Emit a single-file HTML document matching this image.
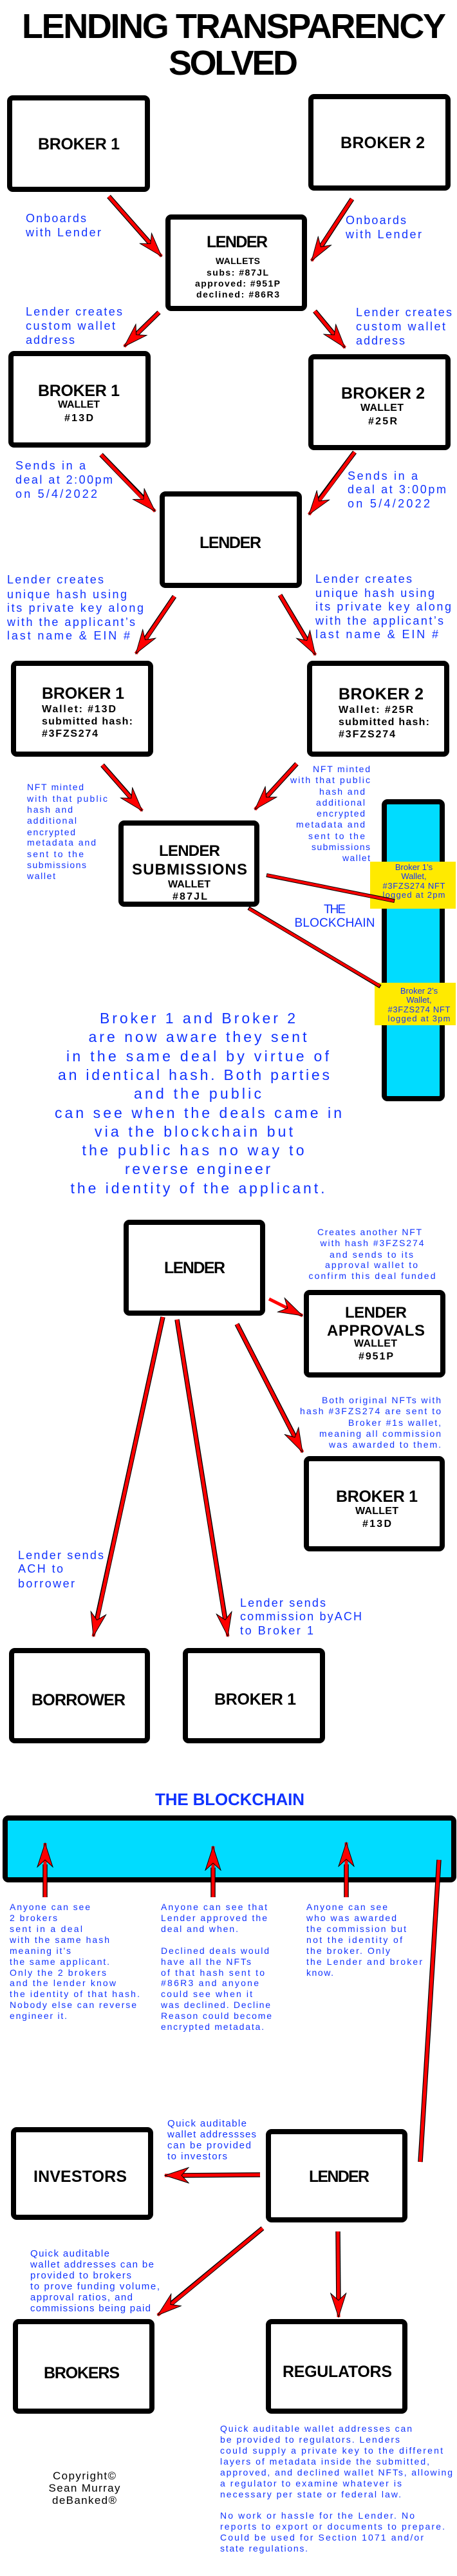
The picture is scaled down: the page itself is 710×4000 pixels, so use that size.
<!DOCTYPE html>
<html><head><meta charset="utf-8"><style>
html,body{margin:0;padding:0;background:#fff;}
svg{display:block;}
.bx{fill:#fff;stroke:#000;stroke-width:8;}
.t{font-family:"Liberation Sans",sans-serif;font-weight:bold;fill:#000;}
.b{font-family:"Liberation Sans",sans-serif;fill:#1133ff;}
.k{stroke:#000;stroke-width:7.5;}
.r{stroke:#f00;stroke-width:5;}
</style></head><body>
<svg width="710" height="4000" viewBox="0 0 710 4000" xmlns="http://www.w3.org/2000/svg">
<defs>
<marker id="h" markerUnits="userSpaceOnUse" markerWidth="42" markerHeight="32" refX="38" refY="15" orient="auto" viewBox="0 0 42 32">
<path d="M38,15 L1,3 L12,15 L1,27 Z" fill="#f00" stroke="#000" stroke-width="1"/>
</marker>
</defs>

<!-- TITLE -->
<text class="t" x="34" y="59" font-size="54" textLength="659" font-weight="bold">LENDING TRANSPARENCY</text>
<text class="t" x="262" y="116" font-size="54" textLength="201">SOLVED</text>

<!-- top boxes -->
<rect class="bx" x="15" y="152" width="214" height="142" rx="5"/>
<text class="t" x="59" y="232" font-size="25" textLength="127">BROKER 1</text>
<rect class="bx" x="483" y="150" width="213" height="142" rx="5"/>
<text class="t" x="529" y="230" font-size="25" textLength="131">BROKER 2</text>

<rect class="bx" x="261" y="337" width="212" height="142" rx="5"/>
<text class="t" x="321" y="384" font-size="25" textLength="95">LENDER</text>
<text class="t" x="335" y="410" font-size="14" textLength="69" font-weight="normal">WALLETS</text>
<text class="t" x="321" y="428" font-size="14" textLength="96" font-weight="normal">subs: #87JL</text>
<text class="t" x="303" y="445" font-size="14" textLength="132" font-weight="normal">approved: #951P</text>
<text class="t" x="305" y="462" font-size="14" textLength="129" font-weight="normal">declined: #86R3</text>

<text class="b" x="40" y="345" font-size="18" textLength="94">Onboards</text>
<text class="b" x="40" y="367" font-size="18" textLength="117">with Lender</text>
<text class="b" x="537" y="348" font-size="18" textLength="94">Onboards</text>
<text class="b" x="537" y="370" font-size="18" textLength="118">with Lender</text>

<line class="k" x1="169" y1="305" x2="236" y2="381"/><line class="r" x1="169" y1="305" x2="251" y2="398" marker-end="url(#h)"/>
<line class="k" x1="547" y1="309" x2="496" y2="387"/><line class="r" x1="547" y1="309" x2="484" y2="405" marker-end="url(#h)"/>
<line class="k" x1="247" y1="485" x2="208" y2="523"/><line class="r" x1="247" y1="485" x2="193" y2="538" marker-end="url(#h)"/>
<line class="k" x1="489" y1="483" x2="523" y2="524"/><line class="r" x1="489" y1="483" x2="536" y2="540" marker-end="url(#h)"/>

<text class="b" x="40" y="490" font-size="18" textLength="150">Lender creates</text>
<text class="b" x="40" y="512" font-size="18" textLength="139">custom wallet</text>
<text class="b" x="40" y="534" font-size="18" textLength="76">address</text>
<text class="b" x="553" y="491" font-size="18" textLength="149">Lender creates</text>
<text class="b" x="553" y="513" font-size="18" textLength="139">custom wallet</text>
<text class="b" x="553" y="535" font-size="18" textLength="76">address</text>

<rect class="bx" x="17" y="549" width="213" height="142" rx="5"/>
<text class="t" x="59" y="615" font-size="25" textLength="127">BROKER 1</text>
<text class="t" x="90" y="633" font-size="16" textLength="65">WALLET</text>
<text class="t" x="100" y="654" font-size="16" textLength="45">#13D</text>
<rect class="bx" x="483" y="554" width="213" height="141" rx="5"/>
<text class="t" x="530" y="619" font-size="25" textLength="130">BROKER 2</text>
<text class="t" x="560" y="638" font-size="16" textLength="67">WALLET</text>
<text class="t" x="572" y="659" font-size="16" textLength="45">#25R</text>

<!-- section 2 -->
<line class="k" x1="157" y1="706" x2="226" y2="777"/><line class="r" x1="157" y1="706" x2="241" y2="794" marker-end="url(#h)"/>
<line class="k" x1="551" y1="702" x2="492" y2="781"/><line class="r" x1="551" y1="702" x2="480" y2="799" marker-end="url(#h)"/>

<text class="b" x="24" y="729" font-size="18" textLength="109">Sends in a</text>
<text class="b" x="24" y="751" font-size="18" textLength="151">deal at 2:00pm</text>
<text class="b" x="24" y="773" font-size="18" textLength="127">on 5/4/2022</text>
<text class="b" x="540" y="745" font-size="18" textLength="109">Sends in a</text>
<text class="b" x="540" y="766" font-size="18" textLength="153">deal at 3:00pm</text>
<text class="b" x="540" y="788" font-size="18" textLength="128">on 5/4/2022</text>

<rect class="bx" x="252" y="767" width="213" height="142" rx="5"/>
<text class="t" x="310" y="851" font-size="25" textLength="96">LENDER</text>

<text class="b" x="11" y="906" font-size="18" textLength="150">Lender creates</text>
<text class="b" x="11" y="929" font-size="18" textLength="186">unique hash using</text>
<text class="b" x="11" y="950" font-size="18" textLength="212">its private key along</text>
<text class="b" x="11" y="972" font-size="18" textLength="199">with the applicant’s</text>
<text class="b" x="11" y="993" font-size="18" textLength="191">last name &amp; EIN #</text>
<text class="b" x="490" y="905" font-size="18" textLength="150">Lender creates</text>
<text class="b" x="490" y="927" font-size="18" textLength="185">unique hash using</text>
<text class="b" x="490" y="948" font-size="18" textLength="211">its private key along</text>
<text class="b" x="490" y="970" font-size="18" textLength="199">with the applicant’s</text>
<text class="b" x="490" y="991" font-size="18" textLength="191">last name &amp; EIN #</text>

<line class="k" x1="271" y1="926" x2="220" y2="1001"/><line class="r" x1="271" y1="926" x2="211" y2="1015" marker-end="url(#h)"/>
<line class="k" x1="435" y1="924" x2="482" y2="1003"/><line class="r" x1="435" y1="924" x2="490" y2="1017" marker-end="url(#h)"/>

<rect class="bx" x="21" y="1030" width="213" height="141" rx="5"/>
<text class="t" x="65" y="1085" font-size="25" textLength="128">BROKER 1</text>
<text class="t" x="65" y="1106" font-size="16" textLength="115" font-weight="normal">Wallet: #13D</text>
<text class="t" x="65" y="1125" font-size="16" textLength="141" font-weight="normal">submitted hash:</text>
<text class="t" x="65" y="1144" font-size="16" textLength="87">#3FZS274</text>
<rect class="bx" x="481" y="1030" width="213" height="141" rx="5"/>
<text class="t" x="526" y="1086" font-size="25" textLength="132">BROKER 2</text>
<text class="t" x="526" y="1107" font-size="16" textLength="116" font-weight="normal">Wallet: #25R</text>
<text class="t" x="526" y="1126" font-size="16" textLength="141" font-weight="normal">submitted hash:</text>
<text class="t" x="526" y="1145" font-size="16" textLength="88">#3FZS274</text>

<line class="k" x1="159" y1="1188" x2="210" y2="1246"/><line class="r" x1="159" y1="1188" x2="221" y2="1259" marker-end="url(#h)"/>
<line class="k" x1="461" y1="1186" x2="407" y2="1245"/><line class="r" x1="461" y1="1186" x2="396" y2="1257" marker-end="url(#h)"/>

<g class="b" font-size="14">
<text x="42" y="1227" textLength="88">NFT minted</text>
<text x="42" y="1245" textLength="125">with that public</text>
<text x="42" y="1262" textLength="71">hash and</text>
<text x="42" y="1279" textLength="77">additional</text>
<text x="42" y="1297" textLength="75">encrypted</text>
<text x="42" y="1313" textLength="107">metadata and</text>
<text x="42" y="1331" textLength="88">sent to the</text>
<text x="42" y="1348" textLength="92">submissions</text>
<text x="42" y="1365" textLength="44">wallet</text>
</g>
<g class="b" font-size="14" text-anchor="end">
<text x="575" y="1199" textLength="89">NFT minted</text>
<text x="575" y="1216" textLength="124">with that public</text>
<text x="567" y="1234" textLength="71">hash and</text>
<text x="567" y="1251" textLength="76">additional</text>
<text x="567" y="1268" textLength="75">encrypted</text>
<text x="567" y="1285" textLength="107">metadata and</text>
<text x="567" y="1303" textLength="88">sent to the</text>
<text x="575" y="1320" textLength="91">submissions</text>
<text x="575" y="1337" textLength="43">wallet</text>
</g>

<rect class="bx" x="188" y="1278" width="211" height="126" rx="5"/>
<text class="t" x="247" y="1329" font-size="24" textLength="95">LENDER</text>
<text class="t" x="205" y="1358" font-size="24" textLength="179">SUBMISSIONS</text>
<text class="t" x="261" y="1378" font-size="16" textLength="66">WALLET</text>
<text class="t" x="268" y="1397" font-size="16" textLength="54">#87JL</text>

<rect x="597" y="1245" width="90" height="461" rx="5" fill="#00dcff" stroke="#000" stroke-width="8"/>
<rect x="575" y="1338" width="133" height="73" fill="#ffea00"/>
<g class="b" font-size="13" text-anchor="middle">
<text x="643" y="1351">Broker 1’s</text>
<text x="643" y="1365">Wallet,</text>
<text x="643" y="1380" textLength="97">#3FZS274 NFT</text>
<text x="643" y="1394" textLength="97">logged at 2pm</text>
</g>
<rect x="582" y="1526" width="126" height="66" fill="#ffea00"/>
<g class="b" font-size="13" text-anchor="middle">
<text x="651" y="1543">Broker 2’s</text>
<text x="651" y="1557">Wallet,</text>
<text x="651" y="1572" textLength="97">#3FZS274 NFT</text>
<text x="651" y="1586" textLength="97">logged at 3pm</text>
</g>
<line stroke="#000" stroke-width="6" x1="414" y1="1359" x2="613" y2="1399"/><line stroke="#f00" stroke-width="4" x1="415" y1="1359" x2="612" y2="1399"/>
<line stroke="#000" stroke-width="6" x1="386" y1="1410" x2="591" y2="1532"/><line stroke="#f00" stroke-width="4" x1="387" y1="1411" x2="590" y2="1531"/>
<text class="b" x="520" y="1418" font-size="19" text-anchor="middle" textLength="34">THE</text>
<text class="b" x="520" y="1439" font-size="19" text-anchor="middle" textLength="125">BLOCKCHAIN</text>

<g class="b" font-size="23" text-anchor="middle">
<text x="307" y="1589" textLength="304">Broker 1 and Broker 2</text>
<text x="307" y="1618" textLength="339">are now aware they sent</text>
<text x="307" y="1648" textLength="408">in the same deal by virtue of</text>
<text x="301" y="1677" textLength="422">an identical hash. Both parties</text>
<text x="307" y="1706" textLength="198">and the public</text>
<text x="308" y="1736" textLength="446">can see when the deals came in</text>
<text x="301" y="1765" textLength="308">via the blockchain but</text>
<text x="300" y="1794" textLength="345">the public has no way to</text>
<text x="307" y="1823" textLength="226">reverse engineer</text>
<text x="307" y="1853" textLength="395">the identity of the applicant.</text>
</g>

<!-- section 3 -->
<rect class="bx" x="196" y="1898" width="212" height="141" rx="5"/>
<text class="t" x="255" y="1977" font-size="25" textLength="95">LENDER</text>
<g class="b" font-size="14" text-anchor="middle">
<text x="574" y="1918" textLength="162">Creates another NFT</text>
<text x="578" y="1935" textLength="161">with hash #3FZS274</text>
<text x="577" y="1953" textLength="130">and sends to its</text>
<text x="577" y="1969" textLength="144">approval wallet to</text>
<text x="578" y="1986" textLength="197">confirm this deal funded</text>
</g>
<rect class="bx" x="476" y="2007" width="212" height="128" rx="5"/>
<text class="t" x="536" y="2046" font-size="24" textLength="96">LENDER</text>
<text class="t" x="508" y="2074" font-size="24" textLength="152">APPROVALS</text>
<text class="t" x="550" y="2091" font-size="16" textLength="67">WALLET</text>
<text class="t" x="557" y="2111" font-size="16" textLength="54">#951P</text>
<line class="r" x1="418" y1="2017" x2="470" y2="2043" marker-end="url(#h)"/>

<line class="k" x1="253" y1="2045" x2="149" y2="2521"/><line class="r" x1="253" y1="2045" x2="145" y2="2541" marker-end="url(#h)"/>
<line class="k" x1="275" y1="2049" x2="351" y2="2521"/><line class="r" x1="275" y1="2049" x2="354" y2="2541" marker-end="url(#h)"/>
<line class="k" x1="368" y1="2056" x2="461" y2="2237"/><line class="r" x1="368" y1="2056" x2="470" y2="2255" marker-end="url(#h)"/>

<g class="b" font-size="14" text-anchor="end">
<text x="685" y="2179" textLength="185">Both original NFTs with</text>
<text x="685" y="2196" textLength="219">hash #3FZS274 are sent to</text>
<text x="685" y="2214" textLength="144">Broker #1s wallet,</text>
<text x="685" y="2231" textLength="189">meaning all commission</text>
<text x="685" y="2248" textLength="174">was awarded to them.</text>
</g>
<rect class="bx" x="476" y="2265" width="211" height="140" rx="5"/>
<text class="t" x="522" y="2332" font-size="25" textLength="127">BROKER 1</text>
<text class="t" x="552" y="2351" font-size="16" textLength="67">WALLET</text>
<text class="t" x="563" y="2371" font-size="16" textLength="45">#13D</text>

<text class="b" x="28" y="2421" font-size="18" textLength="133">Lender sends</text>
<text class="b" x="28" y="2442" font-size="18" textLength="70">ACH to</text>
<text class="b" x="28" y="2465" font-size="18" textLength="88">borrower</text>
<text class="b" x="373" y="2495" font-size="18" textLength="133">Lender sends</text>
<text class="b" x="373" y="2516" font-size="18" textLength="189">commission byACH</text>
<text class="b" x="373" y="2538" font-size="18" textLength="114">to Broker 1</text>

<rect class="bx" x="18" y="2563" width="211" height="140" rx="5"/>
<text class="t" x="49" y="2648" font-size="25" textLength="146">BORROWER</text>
<rect class="bx" x="288" y="2563" width="213" height="140" rx="5"/>
<text class="t" x="333" y="2647" font-size="25" textLength="127">BROKER 1</text>

<!-- blockchain section -->
<text class="b" x="241" y="2803" font-size="26" font-weight="bold" textLength="232">THE BLOCKCHAIN</text>
<rect x="8" y="2823" width="697" height="96" rx="5" fill="#00dcff" stroke="#000" stroke-width="8"/>
<line class="k" x1="70" y1="2946" x2="70" y2="2895"/><line class="r" x1="70" y1="2946" x2="70" y2="2862" marker-end="url(#h)"/>
<line class="k" x1="331" y1="2946" x2="331" y2="2900"/><line class="r" x1="331" y1="2946" x2="331" y2="2867" marker-end="url(#h)"/>
<line class="k" x1="538" y1="2946" x2="538" y2="2895"/><line class="r" x1="538" y1="2946" x2="538" y2="2861" marker-end="url(#h)"/>
<line class="k" x1="682" y1="2888" x2="653" y2="3357"/><line class="r" x1="682" y1="2888" x2="653" y2="3357"/>

<g class="b" font-size="14">
<text x="15" y="2966" textLength="125">Anyone can see</text>
<text x="15" y="2983" textLength="74">2 brokers</text>
<text x="15" y="3000" textLength="113">sent in a deal</text>
<text x="15" y="3017" textLength="155">with the same hash</text>
<text x="15" y="3034" textLength="95">meaning it’s</text>
<text x="15" y="3051" textLength="155">the same applicant.</text>
<text x="15" y="3068" textLength="150">Only the 2 brokers</text>
<text x="15" y="3084" textLength="165">and the lender know</text>
<text x="15" y="3101" textLength="202">the identity of that hash.</text>
<text x="15" y="3118" textLength="197">Nobody else can reverse</text>
<text x="15" y="3135" textLength="89">engineer it.</text>

<text x="250" y="2966" textLength="165">Anyone can see that</text>
<text x="250" y="2983" textLength="165">Lender approved the</text>
<text x="250" y="3000" textLength="120">deal and when.</text>
<text x="250" y="3034" textLength="168">Declined deals would</text>
<text x="250" y="3051" textLength="140">have all the NFTs</text>
<text x="250" y="3068" textLength="161">of that hash sent to</text>
<text x="250" y="3084" textLength="152">#86R3 and anyone</text>
<text x="250" y="3101" textLength="142">could see when it</text>
<text x="250" y="3118" textLength="170">was declined. Decline</text>
<text x="250" y="3135" textLength="172">Reason could become</text>
<text x="250" y="3152" textLength="160">encrypted metadata.</text>

<text x="476" y="2966" textLength="126">Anyone can see</text>
<text x="476" y="2983" textLength="140">who was awarded</text>
<text x="476" y="3000" textLength="155">the commission but</text>
<text x="476" y="3017" textLength="149">not the identity of</text>
<text x="476" y="3034" textLength="130">the broker. Only</text>
<text x="476" y="3051" textLength="180">the Lender and broker</text>
<text x="476" y="3068" textLength="42">know.</text>
</g>

<g class="b" font-size="15">
<text x="260" y="3302" textLength="123">Quick auditable</text>
<text x="260" y="3319" textLength="138">wallet addressses</text>
<text x="260" y="3336" textLength="130">can be provided</text>
<text x="260" y="3353" textLength="93">to investors</text>
</g>

<rect class="bx" x="21" y="3307" width="213" height="136" rx="5"/>
<text class="t" x="52" y="3388" font-size="25" textLength="145">INVESTORS</text>
<rect class="bx" x="417" y="3310" width="212" height="137" rx="5"/>
<text class="t" x="480" y="3388" font-size="25" textLength="94">LENDER</text>

<line class="k" x1="404" y1="3377" x2="275" y2="3378"/><line class="r" x1="404" y1="3377" x2="256" y2="3378" marker-end="url(#h)"/>
<line class="k" x1="408" y1="3460" x2="260" y2="3582"/><line class="r" x1="408" y1="3460" x2="245" y2="3595" marker-end="url(#h)"/>
<line class="k" x1="525" y1="3465" x2="526" y2="3580"/><line class="r" x1="525" y1="3465" x2="526" y2="3598" marker-end="url(#h)"/>

<g class="b" font-size="15">
<text x="47" y="3504" textLength="123">Quick auditable</text>
<text x="47" y="3521" textLength="192">wallet addresses can be</text>
<text x="47" y="3538" textLength="157">provided to brokers</text>
<text x="47" y="3555" textLength="201">to prove funding volume,</text>
<text x="47" y="3572" textLength="159">approval ratios, and</text>
<text x="47" y="3589" textLength="187">commissions being paid</text>
</g>

<rect class="bx" x="24" y="3605" width="212" height="139" rx="5"/>
<text class="t" x="68" y="3693" font-size="25" textLength="118">BROKERS</text>
<rect class="bx" x="417" y="3605" width="212" height="139" rx="5"/>
<text class="t" x="439" y="3691" font-size="25" textLength="170">REGULATORS</text>

<g font-family="Liberation Sans, sans-serif" font-size="17" fill="#000" text-anchor="middle">
<text x="131" y="3850" textLength="98">Copyright©</text>
<text x="131" y="3869" textLength="111">Sean Murray</text>
<text x="131" y="3888" textLength="100">deBanked®</text>
</g>

<g class="b" font-size="14">
<text x="342" y="3776" textLength="298">Quick auditable wallet addresses can</text>
<text x="342" y="3793" textLength="279">be provided to regulators. Lenders</text>
<text x="342" y="3810" textLength="346">could supply a private key to the different</text>
<text x="342" y="3827" textLength="325">layers of metadata inside the submitted,</text>
<text x="342" y="3844" textLength="361">approved, and declined wallet NFTs, allowing</text>
<text x="342" y="3861" textLength="282">a regulator to examine whatever is</text>
<text x="342" y="3878" textLength="281">necessary per state or federal law.</text>
<text x="342" y="3911" textLength="302">No work or hassle for the Lender. No</text>
<text x="342" y="3928" textLength="349">reports to export or documents to prepare.</text>
<text x="342" y="3945" textLength="316">Could be used for Section 1071 and/or</text>
<text x="342" y="3962" textLength="136">state regulations.</text>
</g>
</svg>
</body></html>
